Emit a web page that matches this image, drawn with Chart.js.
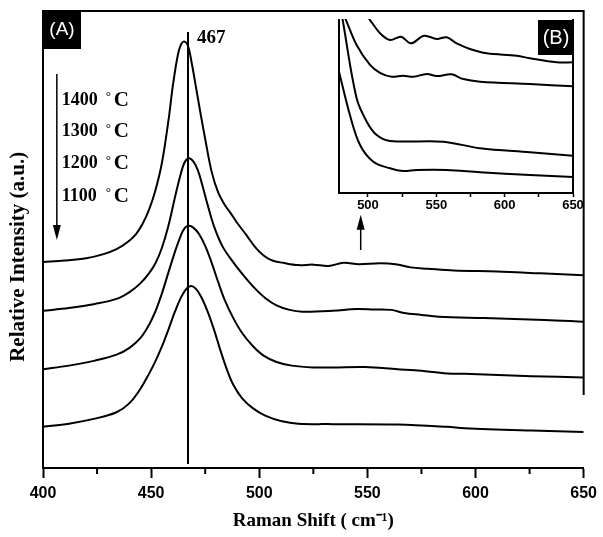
<!DOCTYPE html>
<html>
<head>
<meta charset="utf-8">
<script src="https://cdn.jsdelivr.net/npm/chart.js@4.4.0/dist/chart.umd.min.js"></script>
<style>
  body { margin: 0; background: #fff; }
  #wrap { position: relative; width: 603px; height: 537px; }
  #inset { position: absolute; left: 320px; top: 10px; }
</style>
</head>
<body>
<div id="wrap">
  <canvas id="mainChart" width="603" height="537"></canvas>
  <canvas id="inset" width="266" height="205"></canvas>
</div>
<script>
// main panel (A): Raman spectra, offset vertically
const shift1400 = [400, 410, 420, 428, 434, 439, 443, 446, 449, 452, 455, 458, 460, 462, 463.5, 465.2, 467, 468.7, 470.5, 472.5, 475, 478, 481, 484, 487, 490, 494, 498, 502, 506, 511, 518, 525, 532, 539, 546, 556, 563, 570, 578, 590, 610, 630, 650];
const int1400 = [45.1, 45.4, 45.9, 46.8, 47.9, 49.4, 51.2, 53.4, 56.5, 60.8, 66.8, 76.0, 83.5, 89.5, 92.3, 93.3, 92.4, 88.8, 84.0, 78.5, 72.0, 64.8, 60.3, 57.6, 55.6, 53.5, 51.0, 48.4, 46.5, 45.4, 44.9, 44.4, 44.5, 44.2, 44.9, 44.6, 44.8, 44.6, 43.9, 43.6, 43.2, 43.0, 42.6, 42.2];

const shift1300 = [400, 412, 424, 434, 440, 445, 449, 452, 455, 458, 461, 463.5, 465.5, 467.5, 469.5, 471.5, 473.5, 476, 479, 483, 488, 493, 498, 503, 508, 514, 520, 534, 545, 553, 561, 567, 575, 583, 604, 632, 650];
const int1300 = [34.4, 35.0, 35.9, 37.0, 38.5, 40.4, 42.6, 44.8, 48.2, 53.0, 59.2, 64.0, 66.9, 67.8, 67.1, 65.3, 62.2, 57.8, 53.0, 48.5, 45.0, 42.0, 39.3, 37.1, 35.6, 34.6, 34.2, 34.4, 34.8, 34.7, 34.6, 33.9, 33.5, 33.1, 32.8, 32.4, 32.0];

const shift1200 = [400, 412, 424, 434, 440, 445, 449, 452, 455, 458, 461, 463.5, 465.5, 467.5, 469.5, 472, 475, 478, 481, 484, 488, 492, 497, 502, 508, 515, 525, 534, 549, 564, 572, 587, 595, 626, 650];
const int1200 = [21.6, 22.4, 23.5, 24.8, 26.3, 28.4, 31.3, 34.3, 38.2, 42.8, 47.3, 50.6, 52.5, 53.0, 52.6, 51.3, 48.6, 44.9, 40.7, 36.8, 32.8, 29.6, 26.7, 24.6, 23.2, 22.4, 22.0, 22.0, 22.1, 21.6, 21.4, 20.7, 20.6, 20.1, 19.8];

const shift1100 = [400, 412, 424, 434, 440, 445, 449, 452, 455, 458, 461, 464, 466.5, 468.5, 470.5, 473, 476, 479, 482, 485, 488, 492, 497, 503, 510, 518, 534, 564, 587, 595, 626, 650];
const int1100 = [9.0, 9.7, 10.8, 12.2, 14.2, 17.3, 20.6, 23.4, 26.6, 30.3, 34.2, 37.5, 39.3, 39.8, 39.3, 37.6, 34.4, 30.4, 25.8, 21.6, 18.2, 15.3, 13.1, 11.4, 10.3, 9.7, 9.6, 9.5, 9.0, 8.7, 8.2, 7.9];

const mainTicks = [400, 425, 450, 475, 500, 525, 550, 575, 600, 625, 650];
const tempLabels = ['1400', '1300', '1200', '1100'];
const tempLabelY = [80.5, 73.7, 66.7, 59.5];

// inset (B): zoom on 480-650 cm-1
const insetShift1400 = [495.6, 501.5, 508.8, 516.1, 524.2, 531.5, 541.0, 550.3, 557.6, 564.9, 574.6, 586.9, 608.8, 618.5, 638.1, 650];
const insetInt1400 = [105.2, 99.4, 91.8, 87.9, 89.8, 86.0, 90.4, 88.5, 89.5, 86.0, 82.8, 80.3, 78.9, 77.4, 75.1, 75.1];
const insetShift1300 = [481.0, 483.9, 491.7, 501.5, 508.8, 517.4, 525.6, 533.2, 543.0, 550.3, 561.2, 569.7, 582.0, 618.5, 650];
const insetInt1300 = [104.6, 99.4, 85.1, 73.6, 69.1, 66.8, 67.4, 66.8, 68.4, 67.2, 68.2, 65.5, 64.0, 62.6, 61.3];
const insetShift1200 = [480.3, 481.5, 491.7, 499.1, 506.4, 516.1, 555.1, 582.0, 618.5, 650];
const insetInt1200 = [104.9, 99.4, 54.4, 41.0, 33.3, 29.9, 29.5, 25.7, 23.4, 21.4];
const insetShift1100 = [478.8, 486.8, 494.2, 503.9, 516.1, 525.6, 535.6, 557.6, 582.0, 618.5, 650];
const insetInt1100 = [69.7, 44.8, 27.6, 18.0, 14.2, 12.6, 13.2, 13.2, 11.9, 10.3, 9.2];
const insetTicks = [500, 525, 550, 575, 600, 625, 650];

const peakShift = 467;

function series(xs, ys) {
    return xs.map((v, i) => ({x: v, y: ys[i]}));
}

const lineStyle = {
    borderColor: '#000',
    borderWidth: 2,
    pointRadius: 0,
    fill: false,
    tension: 0.35
};

function arrow(ctx, x, y1, y2) {
    // shaft from y1, head tip at y2
    const dir = y2 > y1 ? 1 : -1;
    ctx.beginPath();
    ctx.moveTo(x, y1);
    ctx.lineTo(x, y2 - dir * 12);
    ctx.stroke();
    ctx.beginPath();
    ctx.moveTo(x, y2);
    ctx.lineTo(x - 4, y2 - dir * 15);
    ctx.lineTo(x + 4, y2 - dir * 15);
    ctx.closePath();
    ctx.fill();
}

const mainDecor = {
    id: 'mainDecor',
    afterDraw(chart) {
        const {ctx, chartArea: a, scales: {x, y}} = chart;
        ctx.save();
        ctx.strokeStyle = '#000';
        ctx.fillStyle = '#000';
        ctx.lineWidth = 2;

        // top edge and the upper part of the right edge
        ctx.beginPath();
        ctx.moveTo(a.left, a.top);
        ctx.lineTo(a.right + 1, a.top);
        ctx.moveTo(a.right, a.top);
        ctx.lineTo(a.right, y.getPixelForValue(16));
        ctx.stroke();

        // minor ticks
        ctx.beginPath();
        mainTicks.filter(v => v % 50 !== 0).forEach(v => {
            const px = x.getPixelForValue(v);
            ctx.moveTo(px, a.bottom);
            ctx.lineTo(px, a.bottom + 6);
        });
        ctx.stroke();

        // peak position line
        const px = Math.round(x.getPixelForValue(peakShift));
        ctx.beginPath();
        ctx.moveTo(px, y.getPixelForValue(95.4));
        ctx.lineTo(px, y.getPixelForValue(0.9));
        ctx.stroke();
        ctx.font = 'bold 19px "Liberation Serif"';
        ctx.textBaseline = 'middle';
        ctx.textAlign = 'left';
        ctx.fillText(String(peakShift), px + 9, y.getPixelForValue(94.1));

        // temperature labels
        tempLabels.forEach((t, i) => {
            const lx = x.getPixelForValue(408.7);
            const ly = y.getPixelForValue(tempLabelY[i]);
            ctx.font = 'bold 18px "Liberation Serif"';
            ctx.fillText(t, lx, ly);
            ctx.font = 'bold 13px "Liberation Serif"';
            ctx.fillText('\u00B0', lx + 44, ly - 3);
            ctx.font = 'bold 21px "Liberation Serif"';
            ctx.fillText('C', lx + 52, ly);
        });

        ctx.lineWidth = 1.5;
        arrow(ctx, x.getPixelForValue(406.4), y.getPixelForValue(86.2), y.getPixelForValue(49.9));
        arrow(ctx, x.getPixelForValue(546.9), y.getPixelForValue(47.7), y.getPixelForValue(55.4));

        // y title, drawn by hand so it can sit a bit low like the original
        ctx.save();
        ctx.translate(19, y.getPixelForValue(46.2));
        ctx.rotate(-Math.PI / 2);
        ctx.textAlign = 'center';
        ctx.font = 'bold 21px "Liberation Serif"';
        ctx.fillText('Relative Intensity (a.u.)', 0, 0);
        ctx.restore();

        // (A) tag
        ctx.fillRect(a.left, a.top, 38, 38);
        ctx.fillStyle = '#fff';
        ctx.font = '19px "Liberation Sans"';
        ctx.textAlign = 'center';
        ctx.fillText('(A)', a.left + 19, a.top + 19);
        ctx.restore();
    }
};

new Chart(document.getElementById('mainChart'), {
    type: 'line',
    data: {
        datasets: [
            Object.assign({label: '1400', data: series(shift1400, int1400)}, lineStyle),
            Object.assign({label: '1300', data: series(shift1300, int1300)}, lineStyle),
            Object.assign({label: '1200', data: series(shift1200, int1200)}, lineStyle),
            Object.assign({label: '1100', data: series(shift1100, int1100)}, lineStyle)
        ]
    },
    options: {
        responsive: false,
        animation: false,
        layout: {padding: {top: 11, right: 17, left: 0, bottom: 0}},
        plugins: {legend: {display: false}, tooltip: {enabled: false}},
        scales: {
            x: {
                type: 'linear',
                min: 400,
                max: 650,
                afterBuildTicks: s => { s.ticks = mainTicks.map(v => ({value: v})); },
                afterFit: s => { s.height = 69; },
                border: {display: true, color: '#000', width: 2},
                grid: {
                    drawOnChartArea: false,
                    tickLength: 10,
                    tickWidth: 2,
                    tickColor: c => (c.tick && c.tick.value % 50 === 0) ? '#000' : 'rgba(0,0,0,0)'
                },
                ticks: {
                    autoSkip: false,
                    maxRotation: 0,
                    padding: 6,
                    color: '#000',
                    font: {family: '"Liberation Sans"', weight: 'bold', size: 16},
                    callback: v => v % 50 === 0 ? String(v) : ''
                },
                title: {
                    display: true,
                    text: 'Raman Shift ( cm\u207B\u00B9)',
                    color: '#000',
                    font: {family: '"Liberation Serif"', weight: 'bold', size: 19},
                    padding: {top: 0, bottom: 5}
                }
            },
            y: {
                min: 0,
                max: 100,
                afterFit: s => { s.width = 43; },
                border: {display: true, color: '#000', width: 2},
                grid: {display: false},
                ticks: {display: false}
            }
        }
    },
    plugins: [mainDecor]
});

const insetDecor = {
    id: 'insetDecor',
    afterDraw(chart) {
        const {ctx, chartArea: a} = chart;
        ctx.save();
        ctx.strokeStyle = '#000';
        ctx.lineWidth = 2;
        ctx.beginPath();
        ctx.moveTo(a.left, a.top);
        ctx.lineTo(a.left, a.bottom);
        ctx.moveTo(a.right, a.top);
        ctx.lineTo(a.right, a.bottom);
        ctx.stroke();
        ctx.fillStyle = '#000';
        ctx.fillRect(a.right - 35, a.top + 1, 35, 35);
        ctx.fillStyle = '#fff';
        ctx.font = '20px "Liberation Sans"';
        ctx.textAlign = 'center';
        ctx.textBaseline = 'middle';
        ctx.fillText('(B)', a.right - 17, a.top + 19);
        ctx.restore();
    }
};

new Chart(document.getElementById('inset'), {
    type: 'line',
    data: {
        datasets: [
            Object.assign({label: '1400', data: series(insetShift1400, insetInt1400)}, lineStyle),
            Object.assign({label: '1300', data: series(insetShift1300, insetInt1300)}, lineStyle),
            Object.assign({label: '1200', data: series(insetShift1200, insetInt1200)}, lineStyle),
            Object.assign({label: '1100', data: series(insetShift1100, insetInt1100)}, lineStyle)
        ]
    },
    options: {
        responsive: false,
        animation: false,
        layout: {padding: {top: 9, right: 13, left: 19, bottom: 0}},
        plugins: {legend: {display: false}, tooltip: {enabled: false}},
        scales: {
            x: {
                type: 'linear',
                min: 478.8,
                max: 650,
                afterBuildTicks: s => { s.ticks = insetTicks.map(v => ({value: v})); },
                afterFit: s => { s.height = 22; },
                border: {display: true, color: '#000', width: 2},
                grid: {drawOnChartArea: false, tickLength: 4, tickWidth: 1.5, tickColor: '#000'},
                ticks: {
                    autoSkip: false,
                    maxRotation: 0,
                    padding: 1,
                    color: '#000',
                    font: {family: '"Liberation Sans"', weight: 'bold', size: 13},
                    callback: v => v % 50 === 0 ? String(v) : ''
                }
            },
            y: {min: 0, max: 100, display: false}
        }
    },
    plugins: [insetDecor]
});
</script>
</body>
</html>
